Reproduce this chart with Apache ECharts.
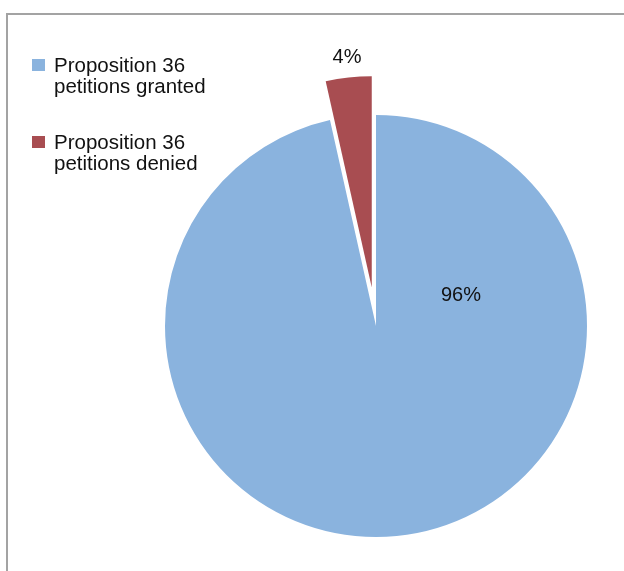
<!DOCTYPE html>
<html><head><meta charset="utf-8">
<script src="https://cdn.jsdelivr.net/npm/echarts@6/dist/echarts.min.js"></script>
<style>html,body{margin:0;padding:0;background:#fff}#c{width:624px;height:571px}</style>
</head><body><div id="c"></div>
<script>
const categories = ['Proposition 36\npetitions granted', 'Proposition 36\npetitions denied'];
const values = [96.5, 3.5];
const pctLabels = ['96%', '4%'];
const colors = ['#8AB3DE', '#A84D51'];
const labelPos = [[461, 295], [347, 57]];

const chart = echarts.init(document.getElementById('c'), null, {renderer: 'canvas'});
const iconPath = 'path://M0,0h0.01v0.01h-0.01z M0,3h13v12h-13z M17,42h0.01v0.01h-0.01z';
chart.setOption({
  animation: false,
  graphic: [{
    type: 'rect', shape: {x: 7, y: 14, width: 800, height: 800},
    style: {fill: 'none', stroke: '#A3A3A3', lineWidth: 2}, silent: true
  }].concat(pctLabels.map((t, i) => ({
    type: 'text', x: labelPos[i][0], y: labelPos[i][1], silent: true, z: 10,
    style: {text: t, fontFamily: 'Liberation Sans', fontSize: 20, fill: '#111', align: 'center', verticalAlign: 'middle'}
  }))),
  legend: {
    orient: 'vertical', left: 27, top: 51, itemWidth: 17, itemHeight: 42, itemGap: 35,
    icon: iconPath, selectedMode: false,
    textStyle: {fontFamily: 'Liberation Sans', fontSize: 20.5, color: '#111', lineHeight: 21},
    data: categories
  },
  series: [{
    type: 'pie', center: [376, 326], radius: 211, startAngle: 90, clockwise: true,
    selectedMode: 'single', selectedOffset: 39,
    label: {show: false},
    labelLine: {show: false},
    emphasis: {disabled: true},
    data: categories.map((n, i) => ({name: n, value: values[i], selected: i === 1, itemStyle: {color: colors[i]}}))
  }]
});
</script></body></html>
